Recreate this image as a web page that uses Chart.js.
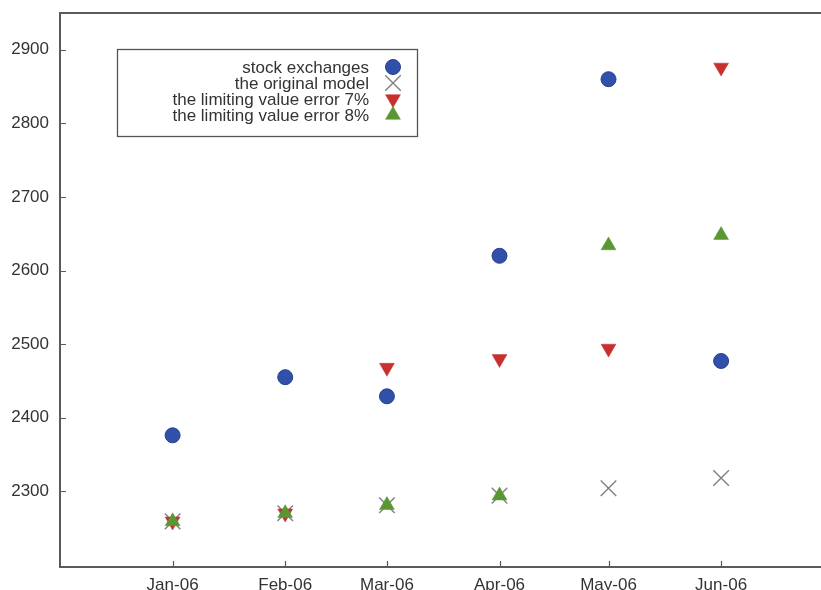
<!DOCTYPE html>
<html>
<head>
<meta charset="utf-8">
<script src="https://cdn.jsdelivr.net/npm/chart.js@4.4.1/dist/chart.umd.min.js"></script>
<style>
  html, body { margin: 0; padding: 0; background: #ffffff; overflow: hidden; }
  canvas { display: block; }
</style>
</head>
<body>
<canvas id="chart" width="821" height="590"></canvas>
<script>
// Monthly observations, first half of 2006
const months = ['Jan-06', 'Feb-06', 'Mar-06', 'Apr-06', 'May-06', 'Jun-06'];
const stockExchanges = [2376, 2455, 2429, 2620, 2860, 2477];
const originalModel = [2259, 2270, 2281, 2294, 2304, 2318];
const limitingError7 = [2259, 2270, 2468, 2480, 2494, 2876];
const limitingError8 = [2259, 2270, 2281, 2294, 2634, 2648];
const yTickValues = [2300, 2400, 2500, 2600, 2700, 2800, 2900];
const seriesLabels = [
  'stock exchanges',
  'the original model',
  'the limiting value error 7%',
  'the limiting value error 8%'
];

// Time axis in days since 1 Jan 2006 (months have different lengths)
const DAY = 86400000;
const monthDays = months.map((m, i) => (Date.UTC(2006, i, 1) - Date.UTC(2006, 0, 1)) / DAY);
const toPoints = vals => vals.map((v, i) => ({ x: monthDays[i], y: v }));

const AXIS_COLOR = '#5a5a5a';
const TEXT_COLOR = '#333333';
const FONT = '"Liberation Sans", Arial, Helvetica, sans-serif';

// Scales keep the plot area exactly where it is laid out
function noScalePadding(scale) {
  scale.paddingLeft = 0;
  scale.paddingRight = 0;
  scale.paddingTop = 0;
  scale.paddingBottom = 0;
}

// Plot frame (top edge) and small inward tick marks
const framePlugin = {
  id: 'frame',
  beforeDatasetsDraw(chart) {
    const { ctx, chartArea: a, scales } = chart;
    ctx.save();
    ctx.strokeStyle = AXIS_COLOR;
    ctx.lineWidth = 2;
    ctx.beginPath();
    ctx.moveTo(a.left - 1, a.top);
    ctx.lineTo(a.right, a.top);
    ctx.stroke();
    ctx.lineWidth = 1.2;
    ctx.beginPath();
    scales.y.ticks.forEach(t => {
      const py = Math.round(scales.y.getPixelForValue(t.value)) + 0.5;
      ctx.moveTo(a.left, py);
      ctx.lineTo(a.left + 6, py);
    });
    scales.x.ticks.forEach(t => {
      const px = Math.round(scales.x.getPixelForValue(t.value)) + 0.5;
      ctx.moveTo(px, a.bottom);
      ctx.lineTo(px, a.bottom - 6);
    });
    ctx.stroke();
    ctx.restore();
  }
};

// Boxed key, text right-aligned with the marker on its right
const keyPlugin = {
  id: 'key',
  afterDraw(chart) {
    const { ctx } = chart;
    const box = { left: 117, top: 49, right: 417, bottom: 136 };
    const textRight = 369;
    const markX = 393;
    const rowY = [67, 83, 99, 115];
    ctx.save();
    ctx.fillStyle = '#ffffff';
    ctx.fillRect(box.left, box.top, box.right - box.left, box.bottom - box.top);
    ctx.strokeStyle = '#555555';
    ctx.lineWidth = 1.3;
    ctx.strokeRect(box.left + 0.5, box.top + 0.5, box.right - box.left, box.bottom - box.top);
    ctx.font = '17px ' + FONT;
    ctx.textAlign = 'right';
    ctx.textBaseline = 'middle';
    chart.data.datasets.forEach((ds, i) => {
      ctx.fillStyle = TEXT_COLOR;
      ctx.fillText(ds.label, textRight, rowY[i] + 1);
      ctx.fillStyle = ds.backgroundColor;
      ctx.strokeStyle = ds.borderColor;
      ctx.lineWidth = ds.borderWidth;
      Chart.helpers.drawPoint(ctx, {
        pointStyle: ds.pointStyle,
        rotation: ds.pointRotation || 0,
        radius: ds.pointRadius,
        borderWidth: ds.borderWidth
      }, markX, rowY[i]);
    });
    ctx.restore();
  }
};

new Chart(document.getElementById('chart'), {
  type: 'scatter',
  data: {
    datasets: [
      {
        label: seriesLabels[0],
        data: toPoints(stockExchanges),
        pointStyle: 'circle',
        pointRadius: 7.5,
        backgroundColor: '#3150aa',
        borderColor: '#283f8e',
        borderWidth: 1,
        order: 3
      },
      {
        label: seriesLabels[1],
        data: toPoints(originalModel),
        pointStyle: 'crossRot',
        pointRadius: 11,
        backgroundColor: '#808080',
        borderColor: '#808080',
        borderWidth: 1.4,
        order: 2
      },
      {
        label: seriesLabels[2],
        data: toPoints(limitingError7),
        pointStyle: 'triangle',
        pointRotation: 180,
        pointRadius: 8.6,
        backgroundColor: '#c8302e',
        borderColor: '#c8302e',
        borderWidth: 0.5,
        order: 1
      },
      {
        label: seriesLabels[3],
        data: toPoints(limitingError8),
        pointStyle: 'triangle',
        pointRadius: 8.6,
        backgroundColor: '#5a9632',
        borderColor: '#5a9632',
        borderWidth: 0.5,
        order: 0
      }
    ]
  },
  options: {
    responsive: false,
    animation: false,
    layout: { autoPadding: false, padding: { top: 13, right: 0, left: 0, bottom: 0 } },
    plugins: {
      legend: { display: false },
      tooltip: { enabled: false }
    },
    elements: { point: { hoverRadius: 0 } },
    scales: {
      x: {
        type: 'linear',
        min: -31,
        max: 178.5,
        afterBuildTicks(scale) {
          scale.ticks = monthDays.map(v => ({ value: v }));
        },
        afterFit(scale) { scale.height = 23; noScalePadding(scale); },
        grid: { drawOnChartArea: false, drawTicks: false },
        border: { display: true, color: AXIS_COLOR, width: 2 },
        ticks: {
          autoSkip: false,
          maxRotation: 0,
          padding: 8,
          color: TEXT_COLOR,
          font: { family: FONT, size: 17 },
          callback: (v) => months[monthDays.indexOf(v)]
        }
      },
      y: {
        type: 'linear',
        min: 2197,
        max: 2950,
        afterBuildTicks(scale) {
          scale.ticks = yTickValues.map(v => ({ value: v }));
        },
        afterFit(scale) { scale.width = 60; noScalePadding(scale); },
        grid: { drawOnChartArea: false, drawTicks: false },
        border: { display: true, color: AXIS_COLOR, width: 2 },
        ticks: {
          padding: 11,
          color: TEXT_COLOR,
          font: { family: FONT, size: 17 },
          callback: (v) => String(v)
        }
      }
    }
  },
  plugins: [framePlugin, keyPlugin]
});
</script>
</body>
</html>
